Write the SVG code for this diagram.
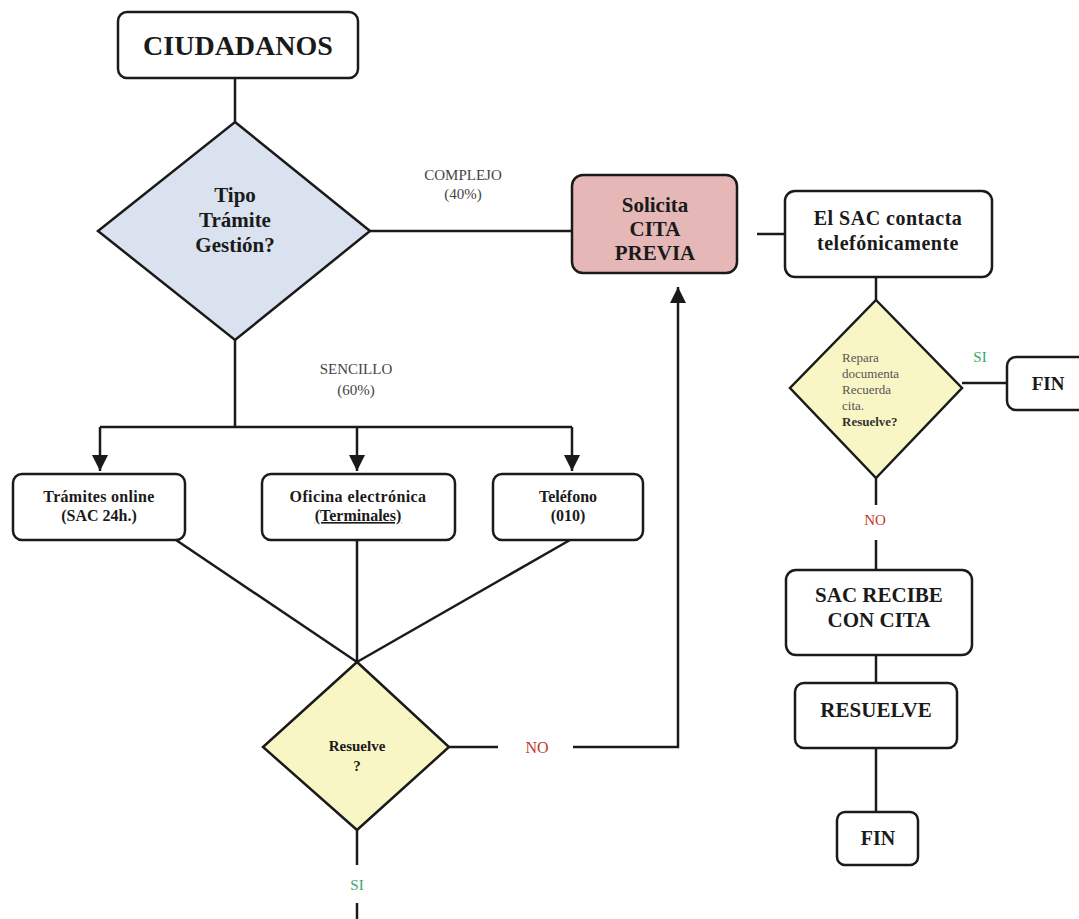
<svg xmlns="http://www.w3.org/2000/svg" width="1079" height="919" viewBox="0 0 1079 919">
<style>
.box{fill:#ffffff;stroke:#1a1a1a;stroke-width:2.5}
.ln{fill:none;stroke:#1a1a1a;stroke-width:2.5}
.t{font-family:"Liberation Serif","Times New Roman",serif;font-weight:bold;fill:#1a1a1a;text-anchor:middle}
.lbl{font-family:"Liberation Serif","Times New Roman",serif;fill:#444;text-anchor:middle;font-size:15px}
.sm{font-family:"Liberation Serif","Times New Roman",serif;fill:#555;font-size:13px}
</style>
<defs>
<marker id="ah" viewBox="0 0 10 10" refX="10" refY="5" markerWidth="6.6" markerHeight="6.4" markerUnits="strokeWidth" orient="auto">
<path d="M0,0 L10,5 L0,10 z" fill="#1a1a1a"/>
</marker>
</defs>
<rect width="1079" height="919" fill="#ffffff"/>
<g id="connectors">
<line class="ln" x1="235" y1="78" x2="235" y2="122"/>
<line class="ln" x1="370" y1="231" x2="572" y2="231"/>
<line class="ln" x1="235" y1="340" x2="235" y2="427"/>
<polyline class="ln" points="100,427 572,427"/>
<line class="ln" x1="100" y1="427" x2="100" y2="471" marker-end="url(#ah)"/>
<line class="ln" x1="357" y1="427" x2="357" y2="471" marker-end="url(#ah)"/>
<line class="ln" x1="572" y1="427" x2="572" y2="471" marker-end="url(#ah)"/>
<line class="ln" x1="176" y1="540" x2="357" y2="662"/>
<line class="ln" x1="357" y1="540" x2="357" y2="662"/>
<line class="ln" x1="570" y1="540" x2="357" y2="662"/>
<line class="ln" x1="449" y1="747" x2="498" y2="747"/>
<polyline class="ln" points="573,747 678,747 678,287" marker-end="url(#ah)"/>
<line class="ln" x1="357" y1="830" x2="357" y2="865"/>
<line class="ln" x1="357" y1="903" x2="357" y2="919"/>
<line class="ln" x1="757" y1="234" x2="785" y2="234"/>
<line class="ln" x1="876" y1="277" x2="876" y2="300"/>
<line class="ln" x1="962" y1="383" x2="1007" y2="383"/>
<line class="ln" x1="876" y1="478" x2="876" y2="505"/>
<line class="ln" x1="876" y1="540" x2="876" y2="570"/>
<line class="ln" x1="876" y1="655" x2="876" y2="683"/>
<line class="ln" x1="876" y1="748" x2="876" y2="812"/>
<text class="lbl" x="463" y="180">COMPLEJO</text>
<text class="lbl" x="463" y="199">(40%)</text>
<text class="lbl" x="356" y="374">SENCILLO</text>
<text class="lbl" x="356" y="395">(60%)</text>
<text class="lbl" x="537" y="753" style="fill:#c0392b;font-size:16px">NO</text>
<text class="lbl" x="357" y="890" style="fill:#3aa56a">SI</text>
<text class="lbl" x="980" y="362" style="fill:#3aa56a">SI</text>
<text class="lbl" x="875" y="525" style="fill:#c0392b">NO</text>
</g>
<g id="ciudadanos">
<rect class="box" x="118" y="12" width="240" height="66" rx="9"/>
<text class="t" x="238" y="55" font-size="28">CIUDADANOS</text>
</g>
<g id="tipo">
<polygon class="box" points="235,122 370,231 235,340 98,231" style="fill:#d9e2ee"/>
<text class="t" x="235" y="202" font-size="21">Tipo</text>
<text class="t" x="235" y="227" font-size="21">Trámite</text>
<text class="t" x="235" y="252" font-size="21">Gestión?</text>
</g>
<g id="solicita">
<rect class="box" x="572" y="175" width="165" height="98" rx="11" style="fill:#e5b7b7"/>
<text class="t" x="655" y="212" font-size="21">Solicita</text>
<text class="t" x="655" y="236" font-size="21">CITA</text>
<text class="t" x="655" y="260" font-size="21">PREVIA</text>
</g>
<g id="elsac">
<rect class="box" x="785" y="191" width="207" height="86" rx="10"/>
<text class="t" x="888" y="225" font-size="20" letter-spacing="0.5">El SAC contacta</text>
<text class="t" x="888" y="250" font-size="20" letter-spacing="0.5">telefónicamente</text>
</g>
<g id="repara">
<polygon class="box" points="876,300 962,388 876,478 790,388" style="fill:#f8f6c4"/>
<text class="sm" x="842" y="362">Repara</text>
<text class="sm" x="842" y="378">documenta</text>
<text class="sm" x="842" y="394">Recuerda</text>
<text class="sm" x="842" y="410">cita.</text>
<text class="sm" x="842" y="426" font-weight="bold" style="fill:#333">Resuelve?</text>
</g>
<g id="fin1">
<rect class="box" x="1007" y="357" width="90" height="53" rx="9"/>
<text class="t" x="1048" y="390" font-size="19">FIN</text>
</g>
<g id="tramites">
<rect class="box" x="13" y="474" width="172" height="66" rx="9"/>
<text class="t" x="99" y="502" font-size="16" letter-spacing="0.3">Trámites online</text>
<text class="t" x="99" y="521" font-size="16">(SAC 24h.)</text>
</g>
<g id="oficina">
<rect class="box" x="262" y="474" width="193" height="66" rx="9"/>
<text class="t" x="358" y="502" font-size="16" letter-spacing="0.4">Oficina electrónica</text>
<text class="t" x="358" y="521" font-size="16" text-decoration="underline">(Terminales)</text>
</g>
<g id="telefono">
<rect class="box" x="493" y="474" width="150" height="66" rx="9"/>
<text class="t" x="568" y="502" font-size="16">Teléfono</text>
<text class="t" x="568" y="521" font-size="16">(010)</text>
</g>
<g id="resuelve">
<polygon class="box" points="357,662 449,747 357,830 263,747" style="fill:#f8f6c4"/>
<text class="t" x="357" y="751" font-size="15">Resuelve</text>
<text class="t" x="357" y="771" font-size="15">?</text>
</g>
<g id="sacrecibe">
<rect class="box" x="786" y="570" width="186" height="85" rx="10"/>
<text class="t" x="879" y="602" font-size="21">SAC RECIBE</text>
<text class="t" x="879" y="627" font-size="21">CON CITA</text>
</g>
<g id="resuelve2">
<rect class="box" x="795" y="683" width="162" height="65" rx="9"/>
<text class="t" x="876" y="717" font-size="21">RESUELVE</text>
</g>
<g id="fin2">
<rect class="box" x="837" y="812" width="81" height="53" rx="8"/>
<text class="t" x="878" y="845" font-size="20">FIN</text>
</g>
</svg>
